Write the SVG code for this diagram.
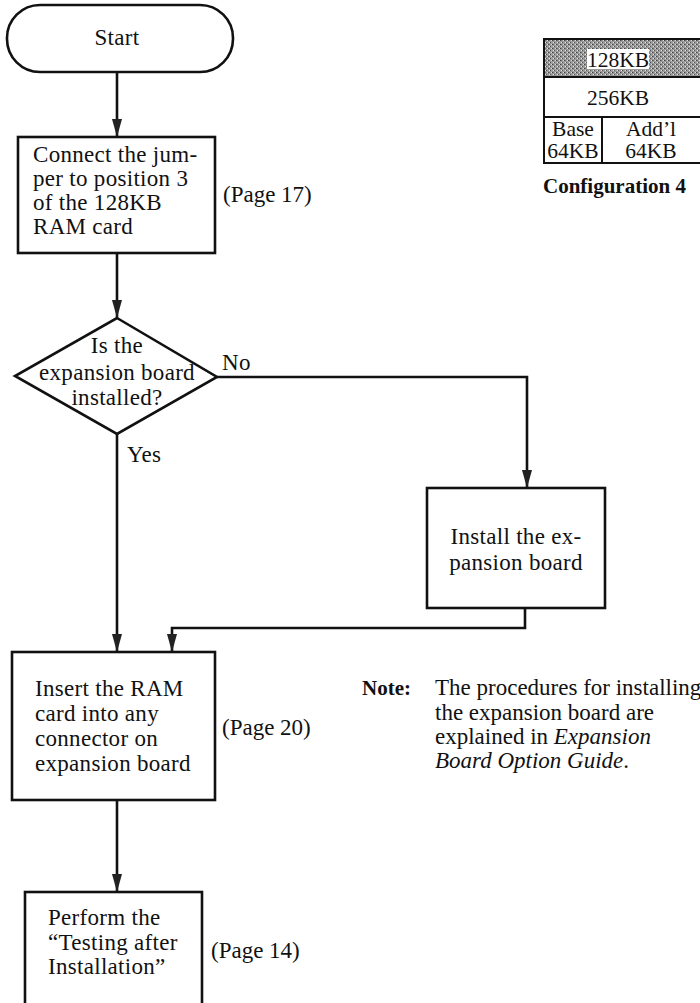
<svg xmlns="http://www.w3.org/2000/svg" width="700" height="1003" viewBox="0 0 700 1003">
<defs>
<pattern id="dots" width="4" height="4" patternUnits="userSpaceOnUse">
<rect width="4" height="4" fill="#9a9a9a"/>
<rect x="0" y="0" width="1" height="1" fill="#444"/>
<rect x="2" y="2" width="1" height="1" fill="#555"/>
<rect x="3" y="0" width="1" height="1" fill="#ddd"/>
<rect x="1" y="2" width="1" height="1" fill="#e6e6e6"/>
<rect x="1" y="0" width="1" height="1" fill="#777"/>
</pattern>
<marker id="arr" viewBox="0 -6 18 12" refX="18" refY="0" markerWidth="18" markerHeight="12" markerUnits="userSpaceOnUse" orient="auto">
<path d="M0,-5 L18,0 L0,5 z" fill="#222"/>
</marker>
</defs>
<style>
text{font-family:"Liberation Serif","Times New Roman",serif;font-size:23px;letter-spacing:0.3px;fill:#111}
.c{text-anchor:middle}
.sm{font-size:21.5px;letter-spacing:0}
.b{font-weight:bold;font-size:21px;letter-spacing:0}
.shape{fill:#fff;stroke:#111;stroke-width:2.6}
.flow{fill:none;stroke:#111;stroke-width:2.6}
</style>
<g id="start">
<rect class="shape" x="7" y="5" width="226" height="67" rx="33" ry="33"/>
<text class="c" x="117" y="45">Start</text>
</g>
<g id="connect-jumper">
<rect class="shape" x="18" y="137" width="197" height="116"/>
<text x="33" y="162">Connect the jum-</text>
<text x="33" y="186">per to position 3</text>
<text x="33" y="210">of the 128KB</text>
<text x="33" y="234">RAM card</text>
<text x="223" y="202" style="letter-spacing:0">(Page 17)</text>
</g>
<g id="decision">
<polygon class="shape" points="117,318 217,377 117,434 15,376"/>
<text class="c" x="117" y="353">Is the</text>
<text class="c" x="117" y="380">expansion board</text>
<text class="c" x="117" y="405">installed?</text>
</g>
<g id="install-board">
<rect class="shape" x="427" y="488" width="178" height="120"/>
<text class="c" x="516" y="544">Install the ex-</text>
<text class="c" x="516" y="570">pansion board</text>
</g>
<g id="insert-card">
<rect class="shape" x="12" y="652" width="203" height="148"/>
<text x="35" y="696">Insert the RAM</text>
<text x="35" y="721">card into any</text>
<text x="35" y="746">connector on</text>
<text x="35" y="771">expansion board</text>
<text x="222" y="735" style="letter-spacing:0">(Page 20)</text>
</g>
<g id="perform-test">
<rect class="shape" x="25" y="892" width="177" height="120"/>
<text x="48" y="925">Perform the</text>
<text x="48" y="950">“Testing after</text>
<text x="48" y="974">Installation”</text>
<text x="211" y="958" style="letter-spacing:0">(Page 14)</text>
</g>
<g id="config">
<rect x="544" y="39" width="170" height="38" fill="url(#dots)" stroke="#111" stroke-width="2"/>
<rect x="587" y="49" width="62" height="20" fill="#fff"/>
<text class="c sm" x="618" y="67">128KB</text>
<rect x="544" y="77" width="170" height="40" fill="#fff" stroke="#111" stroke-width="2"/>
<text class="c sm" x="618" y="105">256KB</text>
<rect x="544" y="117" width="170" height="46" fill="#fff" stroke="#111" stroke-width="2"/>
<line x1="602" y1="117" x2="602" y2="163" stroke="#111" stroke-width="2"/>
<text class="c sm" x="573" y="136">Base</text>
<text class="c sm" x="573" y="158">64KB</text>
<text class="c sm" x="651" y="136">Add’l</text>
<text class="c sm" x="651" y="158">64KB</text>
<text class="b" x="543" y="193">Configuration 4</text>
</g>
<g id="note">
<text class="b" x="362" y="695">Note:</text>
<text x="435" y="695" style="letter-spacing:0">The procedures for installing</text>
<text x="435" y="720" style="letter-spacing:0">the expansion board are</text>
<text x="435" y="744" style="letter-spacing:0">explained in <tspan font-style="italic">Expansion</tspan></text>
<text x="435" y="768" style="letter-spacing:0" font-style="italic">Board Option Guide<tspan font-style="normal">.</tspan></text>
</g>
<g id="connectors">
<line class="flow" x1="117" y1="72" x2="117" y2="137" marker-end="url(#arr)"/>
<line class="flow" x1="117" y1="253" x2="117" y2="318" marker-end="url(#arr)"/>
<polyline class="flow" points="217,377 527,377 527,488" marker-end="url(#arr)"/>
<text x="222" y="370">No</text>
<line class="flow" x1="117" y1="434" x2="117" y2="652" marker-end="url(#arr)"/>
<text x="127" y="462">Yes</text>
<polyline class="flow" points="525,608 525,628 172,628 172,652" marker-end="url(#arr)"/>
<line class="flow" x1="117" y1="800" x2="117" y2="892" marker-end="url(#arr)"/>
</g>
</svg>
